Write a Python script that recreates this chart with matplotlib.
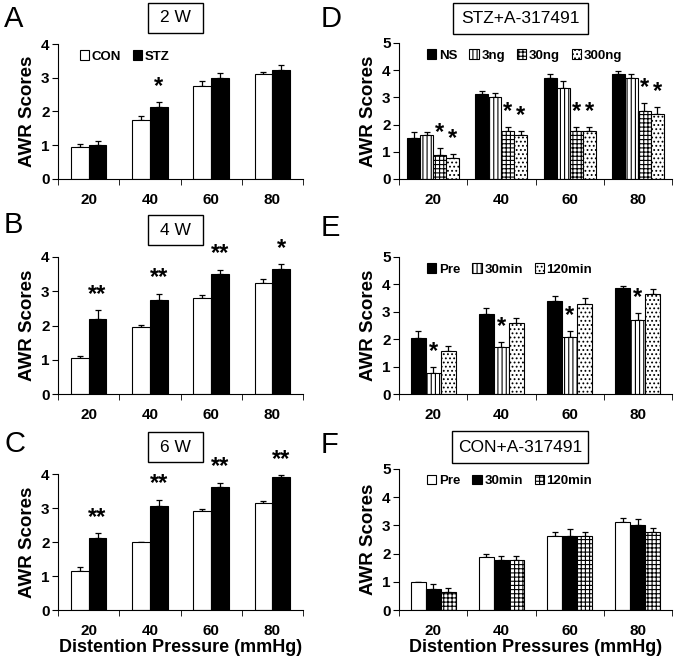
"""
AWR scores vs distention pressure: CON/STZ over weeks (A-C)
and A-317491 treatment (D-F).
"""
import numpy as np
import matplotlib.pyplot as plt
from matplotlib.patches import Rectangle, Patch

plt.rcParams['font.family'] = ['Liberation Sans', 'DejaVu Sans']
plt.rcParams['hatch.linewidth'] = 0.8

pressures = ["20", "40", "60", "80"]

# A: 2 W
A_con = [0.96, 1.76, 2.76, 3.11]
A_con_err = [0.08, 0.11, 0.14, 0.07]
A_stz = [1.0, 2.14, 3.0, 3.24]
A_stz_err = [0.13, 0.15, 0.14, 0.13]
A_stars = ["", "*", "", ""]

# B: 4 W
B_con = [1.06, 1.96, 2.81, 3.25]
B_con_err = [0.05, 0.05, 0.07, 0.11]
B_stz = [2.2, 2.73, 3.5, 3.66]
B_stz_err = [0.24, 0.2, 0.13, 0.13]
B_stars = ["**", "**", "**", "*"]

# C: 6 W
C_con = [1.16, 2.0, 2.91, 3.15]
C_con_err = [0.1, 0.0, 0.05, 0.07]
C_stz = [2.11, 3.06, 3.61, 3.9]
C_stz_err = [0.15, 0.19, 0.14, 0.07]
C_stars = ["**", "**", "**", "**"]

# D: STZ+A-317491 doses
D_ns = [1.51, 3.11, 3.72, 3.85]
D_ns_err = [0.2, 0.12, 0.15, 0.13]
D_3ng = [1.63, 3.0, 3.36, 3.73]
D_3ng_err = [0.11, 0.18, 0.24, 0.12]
D_30ng = [0.88, 1.75, 1.75, 2.49]
D_30ng_err = [0.25, 0.16, 0.16, 0.29]
D_300ng = [0.77, 1.63, 1.75, 2.38]
D_300ng_err = [0.14, 0.12, 0.16, 0.25]
D_stars = ["*", "*", "*", "*"]

# E: STZ time course
E_pre = [2.03, 2.92, 3.41, 3.86]
E_pre_err = [0.27, 0.22, 0.16, 0.09]
E_30 = [0.76, 1.7, 2.07, 2.71]
E_30_err = [0.23, 0.18, 0.22, 0.23]
E_120 = [1.58, 2.58, 3.27, 3.65]
E_120_err = [0.19, 0.19, 0.23, 0.19]
E_stars = ["*", "*", "*", "*"]

# F: CON+A-317491 time course
F_pre = [1.0, 1.88, 2.62, 3.13]
F_pre_err = [0.0, 0.12, 0.13, 0.13]
F_30 = [0.76, 1.76, 2.62, 3.0]
F_30_err = [0.16, 0.15, 0.25, 0.21]
F_120 = [0.63, 1.76, 2.62, 2.75]
F_120_err = [0.14, 0.14, 0.13, 0.15]

# styles: (facecolor, hatch)
WHITE = ("white", None)
BLACK = ("black", None)
STRIPE = ("white", "||||")
GRID = ("white", "++++")
DOTS = ("white", "....")

TICK_FS = 11
W, H = 675, 659


def draw_panel(ax, series, styles, names, width, ymax, stars=None, xlabel=None,
               legend=True, leg_x=0.05):
    x = np.arange(len(pressures))
    n = len(series)
    for k, ((vals, errs), (fc, hatch)) in enumerate(zip(series, styles)):
        pos = x + (k - (n - 1) / 2) * width
        ax.bar(pos, vals, width, color=fc, edgecolor="black", linewidth=0.8,
               hatch=hatch, zorder=2)
        ax.errorbar(pos, vals, yerr=[np.zeros(len(errs)), errs], fmt="none",
                    ecolor="black", elinewidth=0.9, capsize=2.5, capthick=0.9,
                    zorder=1)
        if stars is not None and k in stars:
            for i, s in enumerate(stars[k]):
                if s:
                    ax.annotate(s, (pos[i], vals[i] + errs[i]), xytext=(0, 3),
                                textcoords="offset points", ha="center",
                                va="bottom", fontsize=17, fontweight="bold")
    ax.set_xlim(-0.5, len(pressures) - 0.5)
    ax.set_ylim(0, ymax)
    ax.set_yticks(range(ymax + 1))
    ax.set_xticks(x)
    ax.set_xticklabels(pressures, fontsize=TICK_FS, fontweight="bold")
    ax.set_xticks(np.arange(-0.5, len(pressures)), minor=True)
    ax.tick_params(axis="x", which="major", length=0, pad=10)
    ax.tick_params(axis="x", which="minor", length=4, direction="out")
    ax.tick_params(axis="y", length=4, direction="out", pad=2)
    for lab in ax.get_yticklabels():
        lab.set_fontsize(TICK_FS)
        lab.set_fontweight("bold")
    ax.spines["top"].set_visible(False)
    ax.spines["right"].set_visible(False)
    ax.set_ylabel("AWR Scores", fontsize=13.5, fontweight="bold", labelpad=4)
    if xlabel:
        ax.set_xlabel(xlabel, fontsize=13, fontweight="bold", labelpad=1)
    if legend:
        handles = [Patch(facecolor=fc, edgecolor="black", hatch=h, linewidth=0.8)
                   for fc, h in styles]
        ax.legend(handles, names, loc="upper left", bbox_to_anchor=(leg_x, 1.04),
                  ncol=n, frameon=False, handlelength=0.7, handleheight=0.7,
                  handletextpad=0.2, columnspacing=0.9,
                  prop={"weight": "bold", "size": 9.5})


def px_axes(left, right, top, bottom):
    return fig.add_axes([left / W, 1 - bottom / H, (right - left) / W,
                         (bottom - top) / H])


def title_box(x0, x1, y0, y1, text):
    fig.patches.append(Rectangle((x0 / W, 1 - y1 / H), (x1 - x0) / W,
                                 (y1 - y0) / H, transform=fig.transFigure,
                                 facecolor="white", edgecolor="black",
                                 linewidth=1.0))
    fig.text((x0 + x1) / 2 / W, 1 - (y0 + y1) / 2 / H, text, ha="center",
             va="center", fontsize=12.5)


fig = plt.figure(figsize=(W / 100, H / 100), dpi=100)

axA = px_axes(58, 303, 44, 179)
axB = px_axes(58, 303, 257, 394)
axC = px_axes(58, 303, 474, 610)
axD = px_axes(399, 672, 43, 179)
axE = px_axes(399, 672, 257, 394)
axF = px_axes(399, 672, 469, 610)

draw_panel(axA, [(A_con, A_con_err), (A_stz, A_stz_err)], [WHITE, BLACK],
           ["CON", "STZ"], 0.29, 4, stars={1: A_stars}, leg_x=0.04)
draw_panel(axB, [(B_con, B_con_err), (B_stz, B_stz_err)], [WHITE, BLACK],
           ["CON", "STZ"], 0.29, 4, stars={1: B_stars}, legend=False)
draw_panel(axC, [(C_con, C_con_err), (C_stz, C_stz_err)], [WHITE, BLACK],
           ["CON", "STZ"], 0.29, 4, stars={1: C_stars}, legend=False,
           xlabel="Distention Pressure (mmHg)")

draw_panel(axD, [(D_ns, D_ns_err), (D_3ng, D_3ng_err), (D_30ng, D_30ng_err),
                 (D_300ng, D_300ng_err)], [BLACK, STRIPE, GRID, DOTS],
           ["NS", "3ng", "30ng", "300ng"], 0.19, 5,
           stars={2: D_stars, 3: D_stars}, leg_x=0.06)
draw_panel(axE, [(E_pre, E_pre_err), (E_30, E_30_err), (E_120, E_120_err)],
           [BLACK, STRIPE, DOTS], ["Pre", "30min", "120min"], 0.22, 5,
           stars={1: E_stars}, leg_x=0.06)
draw_panel(axF, [(F_pre, F_pre_err), (F_30, F_30_err), (F_120, F_120_err)],
           [WHITE, BLACK, GRID], ["Pre", "30min", "120min"], 0.22, 5,
           leg_x=0.06, xlabel="Distention Pressures (mmHg)")

# panel letters
for letter, xp, yp in [("A", 4, 5), ("B", 4, 211), ("C", 4, 430),
                       ("D", 321, 5), ("E", 321, 214), ("F", 321, 431)]:
    fig.text(xp / W, 1 - yp / H, letter, fontsize=21, va="top", ha="left")

title_box(148, 203, 3, 33, "2 W")
title_box(148, 203, 215, 245, "4 W")
title_box(148, 203, 432, 462, "6 W")
title_box(453, 588, 3, 34, "STZ+A-317491")
title_box(452, 588, 431, 463, "CON+A-317491")

fig.savefig("out.png", dpi=100)
